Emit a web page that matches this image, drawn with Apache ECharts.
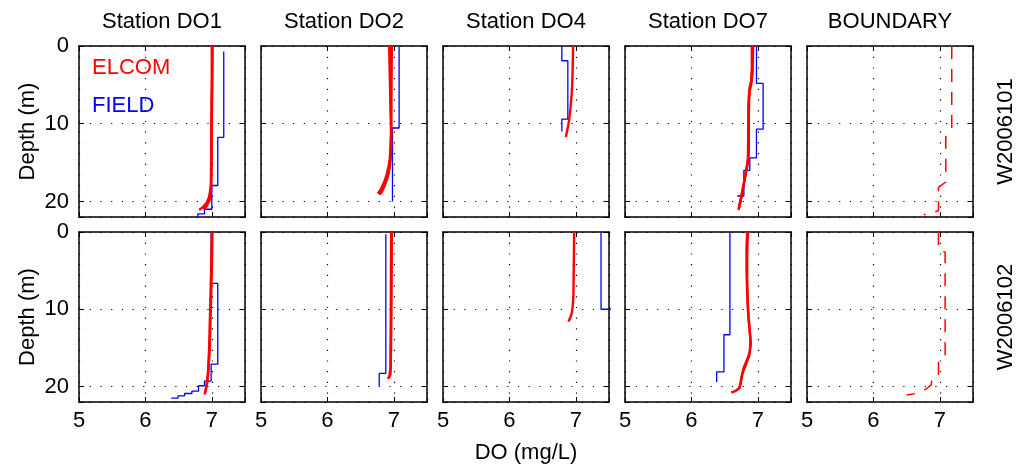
<!DOCTYPE html>
<html><head><meta charset="utf-8">
<script src="https://cdn.jsdelivr.net/npm/echarts@6/dist/echarts.min.js"></script>
<style>html,body{margin:0;padding:0;background:#fff}#c{width:1021px;height:471px}</style>
</head><body><div id="c"></div>
<script>
// ---------- labels & ticks ----------
const stations = ['Station DO1', 'Station DO2', 'Station DO4', 'Station DO7', 'BOUNDARY'];
const runs = ['W2006101', 'W2006102'];
const xTicks = [5, 6, 7];
const depthTicks = [0, 10, 20];
const xLabel = 'DO (mg/L)';
const yLabel = 'Depth (m)';
const seriesNames = ['ELCOM', 'FIELD'];

// ---------- data: [DO (mg/L), depth (m)] ----------
// Row 1 : W2006101
const r1_do1_field = [[7.18,0.7],[7.18,11.75],[7.09,11.75],[7.09,17.95],[7.0,17.95],[7.0,21.0],[6.89,21.0],[6.89,21.6],[6.79,21.6],[6.79,22]];
const r1_do1_elcom_a = [[7.01,0],[7.005,5],[7.0,10],[6.995,15],[6.99,18],[6.97,19.2],[6.93,20.1],[6.87,20.7],[6.81,21.1]];
const r1_do1_elcom_b = [[7.0,0],[7.0,5],[6.995,10],[6.99,15],[6.985,18],[6.96,19.5],[6.92,20.3],[6.86,20.9]];
const r1_do1_elcom_c = [[7.01,0],[7.0,8],[6.995,14],[6.99,18.5],[6.97,19.8],[6.93,20.5],[6.89,21.0]];

const r1_do2_field = [[7.08,0.1],[7.08,10.55],[6.98,10.55],[6.98,20.0]];
const r1_do2_elcom_a = [[6.93,0],[6.94,4],[6.95,8],[6.96,11],[6.95,13],[6.94,14.5],[6.92,15.5],[6.89,16.6],[6.85,17.6],[6.8,18.5],[6.76,19.0]];
const r1_do2_elcom_b = [[6.95,0],[6.955,5],[6.96,10],[6.96,13],[6.95,14.5],[6.93,15.8],[6.9,16.9],[6.86,17.9],[6.82,18.6],[6.78,19.1]];
const r1_do2_elcom_c = [[6.97,0],[6.965,6],[6.96,11],[6.955,14],[6.94,15.5],[6.91,16.8],[6.87,17.8],[6.83,18.6],[6.79,19.1]];

const r1_do4_field = [[6.79,0.1],[6.79,1.9],[6.88,1.9],[6.88,9.4],[6.79,9.4],[6.79,11.0]];
const r1_do4_elcom_a = [[6.96,0],[6.955,2],[6.95,4],[6.94,6],[6.92,8],[6.9,9.5],[6.88,10.5],[6.85,11.7]];

const r1_do7_field = [[6.98,0.1],[6.98,4.8],[7.08,4.8],[7.08,10.7],[6.98,10.7],[6.98,14.4],[6.88,14.4],[6.88,16.0],[6.79,16.0],[6.79,19.3],[6.69,19.3]];
const r1_do7_elcom_a = [[6.92,0],[6.915,3],[6.91,4.3],[6.88,5.3],[6.865,7],[6.86,10],[6.86,13],[6.855,14.5],[6.84,15.5],[6.81,16.8],[6.78,18.2],[6.75,19.5],[6.72,20.5],[6.71,21.1]];
const r1_do7_elcom_b = [[6.93,0],[6.92,3.5],[6.9,5],[6.87,6],[6.865,9],[6.865,13],[6.86,14.3],[6.83,15.8],[6.8,17.3],[6.77,18.7],[6.74,20],[6.72,20.8]];
const r1_do7_elcom_c = [[6.91,0],[6.91,3],[6.9,4.5],[6.87,5.8],[6.86,8],[6.855,12],[6.85,14.8],[6.82,16.3],[6.79,17.6],[6.76,19],[6.73,20.3]];

const r1_bnd = [[7.18,0],[7.18,10.8],[7.09,11.7],[7.09,17.5],[6.98,18.2],[6.98,21.2],[6.9,21.4],[6.76,21.7]];

// Row 2 : W2006102
const r2_do1_field = [[6.99,0],[6.99,6.66],[7.09,6.66],[7.09,17.1],[6.99,17.1],[6.99,19.3],[6.89,19.3],[6.89,19.9],[6.8,19.9],[6.8,20.6],[6.7,20.6],[6.7,20.9],[6.59,20.9],[6.59,21.2],[6.49,21.2],[6.49,21.5],[6.39,21.5]];
const r2_do1_elcom_a = [[7.01,0],[7.0,5],[6.985,10],[6.97,15],[6.95,18],[6.93,19.5],[6.91,20.5],[6.89,21]];
const r2_do1_elcom_b = [[7.0,0],[6.99,5],[6.975,10],[6.96,15],[6.94,18.5],[6.92,19.8],[6.9,20.7]];

const r2_do2_field = [[6.88,0.3],[6.88,18.3],[6.78,18.3],[6.78,19.9]];
const r2_do2_elcom_a = [[6.97,0],[6.965,10],[6.955,17],[6.95,18.4],[6.93,18.8],[6.91,19.0]];
const r2_do2_elcom_b = [[6.96,0],[6.955,10],[6.95,17.5],[6.935,18.6],[6.92,18.9]];

const r2_do4_field = [[7.38,0],[7.38,10.0],[7.6,10.0]];
const r2_do4_elcom_a = [[6.975,0],[6.97,4],[6.965,8],[6.955,9.5],[6.94,10.5],[6.915,11.1],[6.89,11.6]];

const r2_do7_field = [[6.58,0],[6.58,13.3],[6.49,13.3],[6.49,18.1],[6.38,18.1],[6.38,19.4]];
const r2_do7_elcom_a = [[6.84,0],[6.83,2],[6.83,5],[6.84,8],[6.85,10],[6.87,12],[6.89,14],[6.88,15.5],[6.84,16.5],[6.79,17.5],[6.76,18.5],[6.74,19.5],[6.72,20.2],[6.66,20.6],[6.6,20.8]];
const r2_do7_elcom_b = [[6.85,0],[6.84,3],[6.84,6],[6.85,9],[6.86,11],[6.88,13],[6.895,14.5],[6.87,16],[6.82,17.2],[6.77,18.3],[6.745,19.4],[6.73,20.1],[6.68,20.5]];

const r2_bnd = [[6.98,0],[6.98,2.3],[7.08,2.6],[7.08,16],[6.98,16.6],[6.98,18.7],[6.88,19.1],[6.87,19.8],[6.78,20.4],[6.69,20.7],[6.6,20.95],[6.5,21.1]];

// ---------- panel assembly ----------
const panels = [
  {field: r1_do1_field, elcom: [r1_do1_elcom_a, r1_do1_elcom_b, r1_do1_elcom_c]},
  {field: r1_do2_field, elcom: [r1_do2_elcom_a, r1_do2_elcom_b, r1_do2_elcom_c]},
  {field: r1_do4_field, elcom: [r1_do4_elcom_a]},
  {field: r1_do7_field, elcom: [r1_do7_elcom_a, r1_do7_elcom_b, r1_do7_elcom_c]},
  {boundary: r1_bnd},
  {field: r2_do1_field, elcom: [r2_do1_elcom_a, r2_do1_elcom_b]},
  {field: r2_do2_field, elcom: [r2_do2_elcom_a, r2_do2_elcom_b]},
  {field: r2_do4_field, elcom: [r2_do4_elcom_a]},
  {field: r2_do7_field, elcom: [r2_do7_elcom_a, r2_do7_elcom_b]},
  {boundary: r2_bnd}
];

const FONT = 'Liberation Sans, Arial, Helvetica, sans-serif';
const lefts = [79, 261, 443, 625, 807];
const tops = [46, 232];
const W = 166, H = [171, 170];
const RED = '#ff0000', BLUE = '#0000ff';

const grids = [], xAxes = [], yAxes = [], series = [];
const axisLine = {show: true, onZero: false, lineStyle: {color: '#000', width: 1.5}};
const axisTick = {show: true, inside: true, length: 5, lineStyle: {color: '#000', width: 1}};
const dotted = {show: true, lineStyle: {color: '#000', width: 1.2, type: [1.2, 9.5]}};

panels.forEach((p, i) => {
  const row = Math.floor(i / 5), col = i % 5;
  grids.push({left: lefts[col], top: tops[row], width: W, height: H[row], show: false});
  xAxes.push({
    gridIndex: i, type: 'value', position: 'bottom', min: 5, max: 7.5, interval: 1,
    axisLine, axisTick, splitLine: dotted,
    axisLabel: {show: row === 1, color: '#000', fontSize: 22, fontFamily: FONT, margin: 8,
      formatter: v => xTicks.includes(v) ? String(v) : ''},
    name: (row === 1 && col === 2) ? xLabel : '', nameLocation: 'middle', nameGap: 40,
    nameTextStyle: {color: '#000', fontSize: 22, fontFamily: FONT}
  });
  xAxes.push({
    gridIndex: i, type: 'value', position: 'top', min: 5, max: 7.5, interval: 1,
    axisLine, axisTick, splitLine: {show: false}, axisLabel: {show: false},
    name: row === 0 ? stations[col] : '', nameLocation: 'middle', nameGap: 13,
    nameTextStyle: {color: '#000', fontSize: 22, fontFamily: FONT}
  });
  yAxes.push({
    gridIndex: i, type: 'value', position: 'left', inverse: true, min: 0, max: 22, interval: 10,
    axisLine, axisTick, splitLine: dotted,
    axisLabel: {show: col === 0, color: '#000', fontSize: 22, fontFamily: FONT, margin: 10,
      formatter: v => depthTicks.includes(v) ? String(v) : ''},
    name: col === 0 ? yLabel : '', nameLocation: 'middle', nameGap: 40, nameRotate: 90,
    nameTextStyle: {color: '#000', fontSize: 22, fontFamily: FONT}
  });
  yAxes.push({
    gridIndex: i, type: 'value', position: 'right', inverse: true, min: 0, max: 22, interval: 10,
    axisLine, axisTick, splitLine: {show: false}, axisLabel: {show: false},
    name: col === 4 ? runs[row] : '', nameLocation: 'middle', nameGap: 22, nameRotate: 90,
    nameTextStyle: {color: '#000', fontSize: 22, fontFamily: FONT}
  });
  const base = {type: 'line', xAxisIndex: 2 * i, yAxisIndex: 2 * i, showSymbol: false, symbol: 'none',
    animation: false, silent: true, clip: true};
  if (p.field) series.push(Object.assign({}, base, {name: seriesNames[1], data: p.field,
    lineStyle: {color: BLUE, width: 1.3}, z: 2}));
  if (p.elcom) p.elcom.forEach(d => series.push(Object.assign({}, base, {name: seriesNames[0], data: d,
    lineStyle: {color: RED, width: 2.4}, z: 3})));
  if (p.boundary) series.push(Object.assign({}, base, {name: seriesNames[0], data: p.boundary,
    lineStyle: {color: RED, width: 1.5, type: [13, 10]}, z: 3}));
});

const chart = echarts.init(document.getElementById('c'), null, {renderer: 'canvas'});
chart.setOption({
  backgroundColor: '#fff',
  animation: false,
  grid: grids, xAxis: xAxes, yAxis: yAxes, series,
  graphic: [
    {type: 'text', left: 92, top: 57, style: {text: seriesNames[0], fill: RED, fontSize: 22, fontFamily: FONT}},
    {type: 'text', left: 92, top: 95, style: {text: seriesNames[1], fill: BLUE, fontSize: 22, fontFamily: FONT}}
  ]
});
</script></body></html>
